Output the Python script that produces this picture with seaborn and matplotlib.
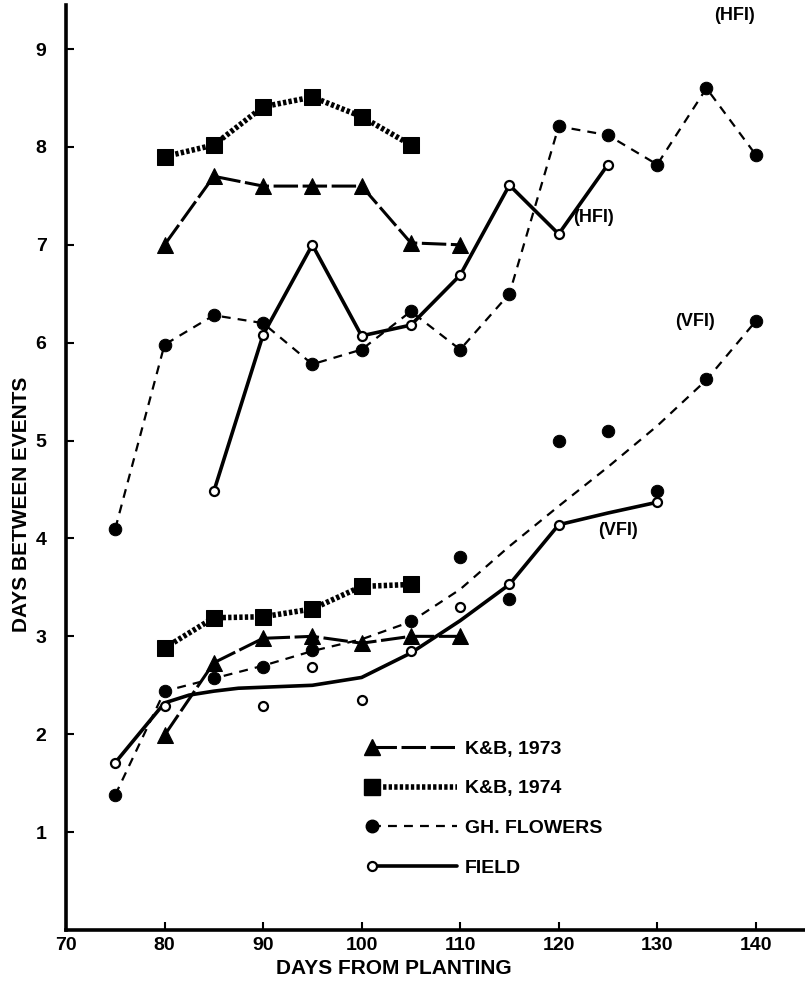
import matplotlib
matplotlib.use("Agg")
import matplotlib.pyplot as plt
import seaborn as sns
import numpy as np
from matplotlib.lines import Line2D
from matplotlib.legend_handler import HandlerLine2D

# ---------------- data ----------------
# Upper group: HFI
kb73_hfi_x = [80, 85, 90, 95, 100, 105, 110]
kb73_hfi_y = [7.0, 7.7, 7.6, 7.6, 7.6, 7.02, 7.0]

kb74_hfi_x = [80, 85, 90, 95, 100, 105]
kb74_hfi_y = [7.9, 8.02, 8.41, 8.51, 8.31, 8.02]

gh_hfi_x = [75, 80, 85, 90, 95, 100, 105, 110, 115, 120, 125, 130, 135, 140]
gh_hfi_y = [4.1, 5.98, 6.28, 6.2, 5.78, 5.93, 6.32, 5.93, 6.5, 8.21, 8.12, 7.82, 8.6, 7.92]

field_hfi_x = [85, 90, 95, 100, 105, 110, 115, 120, 125]
field_hfi_y = [4.48, 6.08, 7.0, 6.07, 6.18, 6.69, 7.61, 7.11, 7.82]

# Lower group: VFI
kb73_vfi_x = [80, 85, 90, 95, 100, 105, 110]
kb73_vfi_y = [1.99, 2.73, 2.98, 3.0, 2.93, 3.0, 3.0]

kb74_vfi_x = [80, 85, 90, 95, 100, 105]
kb74_vfi_y = [2.88, 3.19, 3.2, 3.28, 3.51, 3.53]

gh_vfi_x = [75, 80, 85, 90, 95, 105, 110, 115, 120, 125, 130, 135, 140]
gh_vfi_y = [1.38, 2.44, 2.57, 2.69, 2.86, 3.16, 3.81, 3.38, 5.0, 5.1, 4.49, 5.63, 6.22]
# hand-fitted curve through GH flowers (VFI), as drawn
gh_fit_x = [75, 80, 85, 90, 95, 100, 105, 110, 115, 120, 125, 130, 135, 140]
gh_fit_y = [1.38, 2.44, 2.57, 2.70, 2.85, 2.97, 3.15, 3.48, 3.92, 4.33, 4.73, 5.15, 5.62, 6.22]

field_vfi_x = [75, 80, 90, 95, 100, 105, 110, 115, 120, 130]
field_vfi_y = [1.71, 2.29, 2.29, 2.69, 2.35, 2.85, 3.30, 3.53, 4.14, 4.37]
# hand-fitted curve through field points (VFI), as drawn
field_fit_x = [75, 80, 82.5, 85, 87.5, 90, 95, 100, 105, 110, 115, 120, 125, 130]
field_fit_y = [1.71, 2.32, 2.40, 2.44, 2.47, 2.48, 2.50, 2.58, 2.83, 3.16, 3.53, 4.14, 4.26, 4.37]

x_ticks = [70, 80, 90, 100, 110, 120, 130, 140]
y_ticks = [1, 2, 3, 4, 5, 6, 7, 8, 9]
legend_labels = ["K&B, 1973", "K&B, 1974", "GH. FLOWERS", "FIELD"]
annotations = [("(HFI)", 135.8, 9.34), ("(HFI)", 121.5, 7.28),
               ("(VFI)", 131.8, 6.22), ("(VFI)", 124.0, 4.08)]

# ---------------- styling ----------------
sns.set_theme(style="ticks")
plt.rcParams["font.family"] = ["Liberation Sans", "DejaVu Sans"]
plt.rcParams["font.weight"] = "bold"

fig = plt.figure(figsize=(8.05, 9.84), dpi=100)
ax = fig.add_axes([66 / 805, 1 - 930 / 984, 1 - 66 / 805, (930 - 5) / 984])

K = "black"
S73 = dict(color=K, lw=2.2, linestyle=(0, (8, 1.5)))
S74 = dict(color=K, lw=4.0, linestyle=(0, (0.6, 0.4)))
SGH = dict(color=K, lw=1.6, linestyle=(0, (4, 3.2)))
SFI = dict(color=K, lw=2.6, linestyle="-")

MK73 = dict(marker="^", markersize=12, markerfacecolor=K, markeredgecolor=K)
MK74 = dict(marker="s", markersize=11, markerfacecolor=K, markeredgecolor=K)
MKGH = dict(marker="o", markersize=9, markerfacecolor=K, markeredgecolor=K)
MKFI = dict(marker="o", markersize=6.5, markerfacecolor="white", markeredgecolor=K,
            markeredgewidth=1.6)

def line(x, y, style, mk=None):
    kws = dict(style)
    if mk:
        kws.update(mk)
    sns.lineplot(x=x, y=y, ax=ax, sort=False, estimator=None, **kws)

# upper group
line(kb74_hfi_x, kb74_hfi_y, S74, MK74)
line(kb73_hfi_x, kb73_hfi_y, S73, MK73)
line(gh_hfi_x, gh_hfi_y, SGH, MKGH)
line(field_hfi_x, field_hfi_y, SFI, MKFI)

# lower group
line(kb74_vfi_x, kb74_vfi_y, S74, MK74)
line(kb73_vfi_x, kb73_vfi_y, S73, MK73)
line(gh_fit_x, gh_fit_y, SGH)
line(field_fit_x, field_fit_y, SFI)
sns.scatterplot(x=gh_vfi_x, y=gh_vfi_y, ax=ax, color=K, s=80, edgecolor=K, zorder=3)
sns.scatterplot(x=field_vfi_x, y=field_vfi_y, ax=ax, color="white", s=42,
                edgecolor=K, linewidth=1.6, zorder=4)

for txt, xv, yv in annotations:
    ax.text(xv, yv, txt, fontsize=13, fontweight="bold", color=K,
            ha="left", va="center")

# axes
ax.set_xlim(70, 145)
ax.set_ylim(0, 9.45)
ax.set_xticks(x_ticks)
ax.set_yticks(y_ticks)
ax.set_xticklabels([str(v) for v in x_ticks])
ax.set_yticklabels([str(v) for v in y_ticks])
sns.despine(ax=ax)
for sp in ("left", "bottom"):
    ax.spines[sp].set_linewidth(2.6)
    ax.spines[sp].set_color(K)
ax.tick_params(axis="both", direction="in", length=6, width=1.5, color=K,
               labelsize=14, labelcolor=K)
ax.tick_params(axis="y", pad=14)
ax.tick_params(axis="x", pad=5)
for lab in ax.get_xticklabels() + ax.get_yticklabels():
    lab.set_fontweight("bold")
    lab.set_family(["Liberation Sans Narrow", "Liberation Sans", "DejaVu Sans"])
ax.grid(False)
ax.set_facecolor("white")
fig.patch.set_facecolor("white")

ax.set_xlabel("DAYS FROM PLANTING", fontsize=15, fontweight="bold", color=K)
ax.set_ylabel("DAYS BETWEEN EVENTS", fontsize=15, fontweight="bold", color=K)
ax.xaxis.set_label_coords(0.444, -0.031)
ax.yaxis.set_label_coords(-0.047, 0.46)

# legend with marker at the left end of each sample line
class LeftMarker(HandlerLine2D):
    def create_artists(self, legend, orig_handle, xdescent, ydescent, width,
                       height, fontsize, trans):
        arts = super().create_artists(legend, orig_handle, xdescent, ydescent,
                                      width, height, fontsize, trans)
        for a in arts:
            if a.get_marker() not in (None, "None", "", " "):
                if len(a.get_xdata()) > 1:
                    a.set_markevery([0])
        return arts

handles = [
    Line2D([], [], **S73, **MK73),
    Line2D([], [], **S74, **MK74),
    Line2D([], [], **SGH, **MKGH),
    Line2D([], [], **SFI, **MKFI),
]
leg = ax.legend(handles, legend_labels, loc="upper left",
                bbox_to_anchor=(0.39, 0.224), frameon=False, numpoints=1,
                handlelength=4.4, handletextpad=0.4, labelspacing=1.13,
                prop=dict(size=14, weight="bold"),
                handler_map={Line2D: LeftMarker()})
for t in leg.get_texts():
    t.set_color(K)

fig.savefig("out.png", dpi=100, facecolor="white")
